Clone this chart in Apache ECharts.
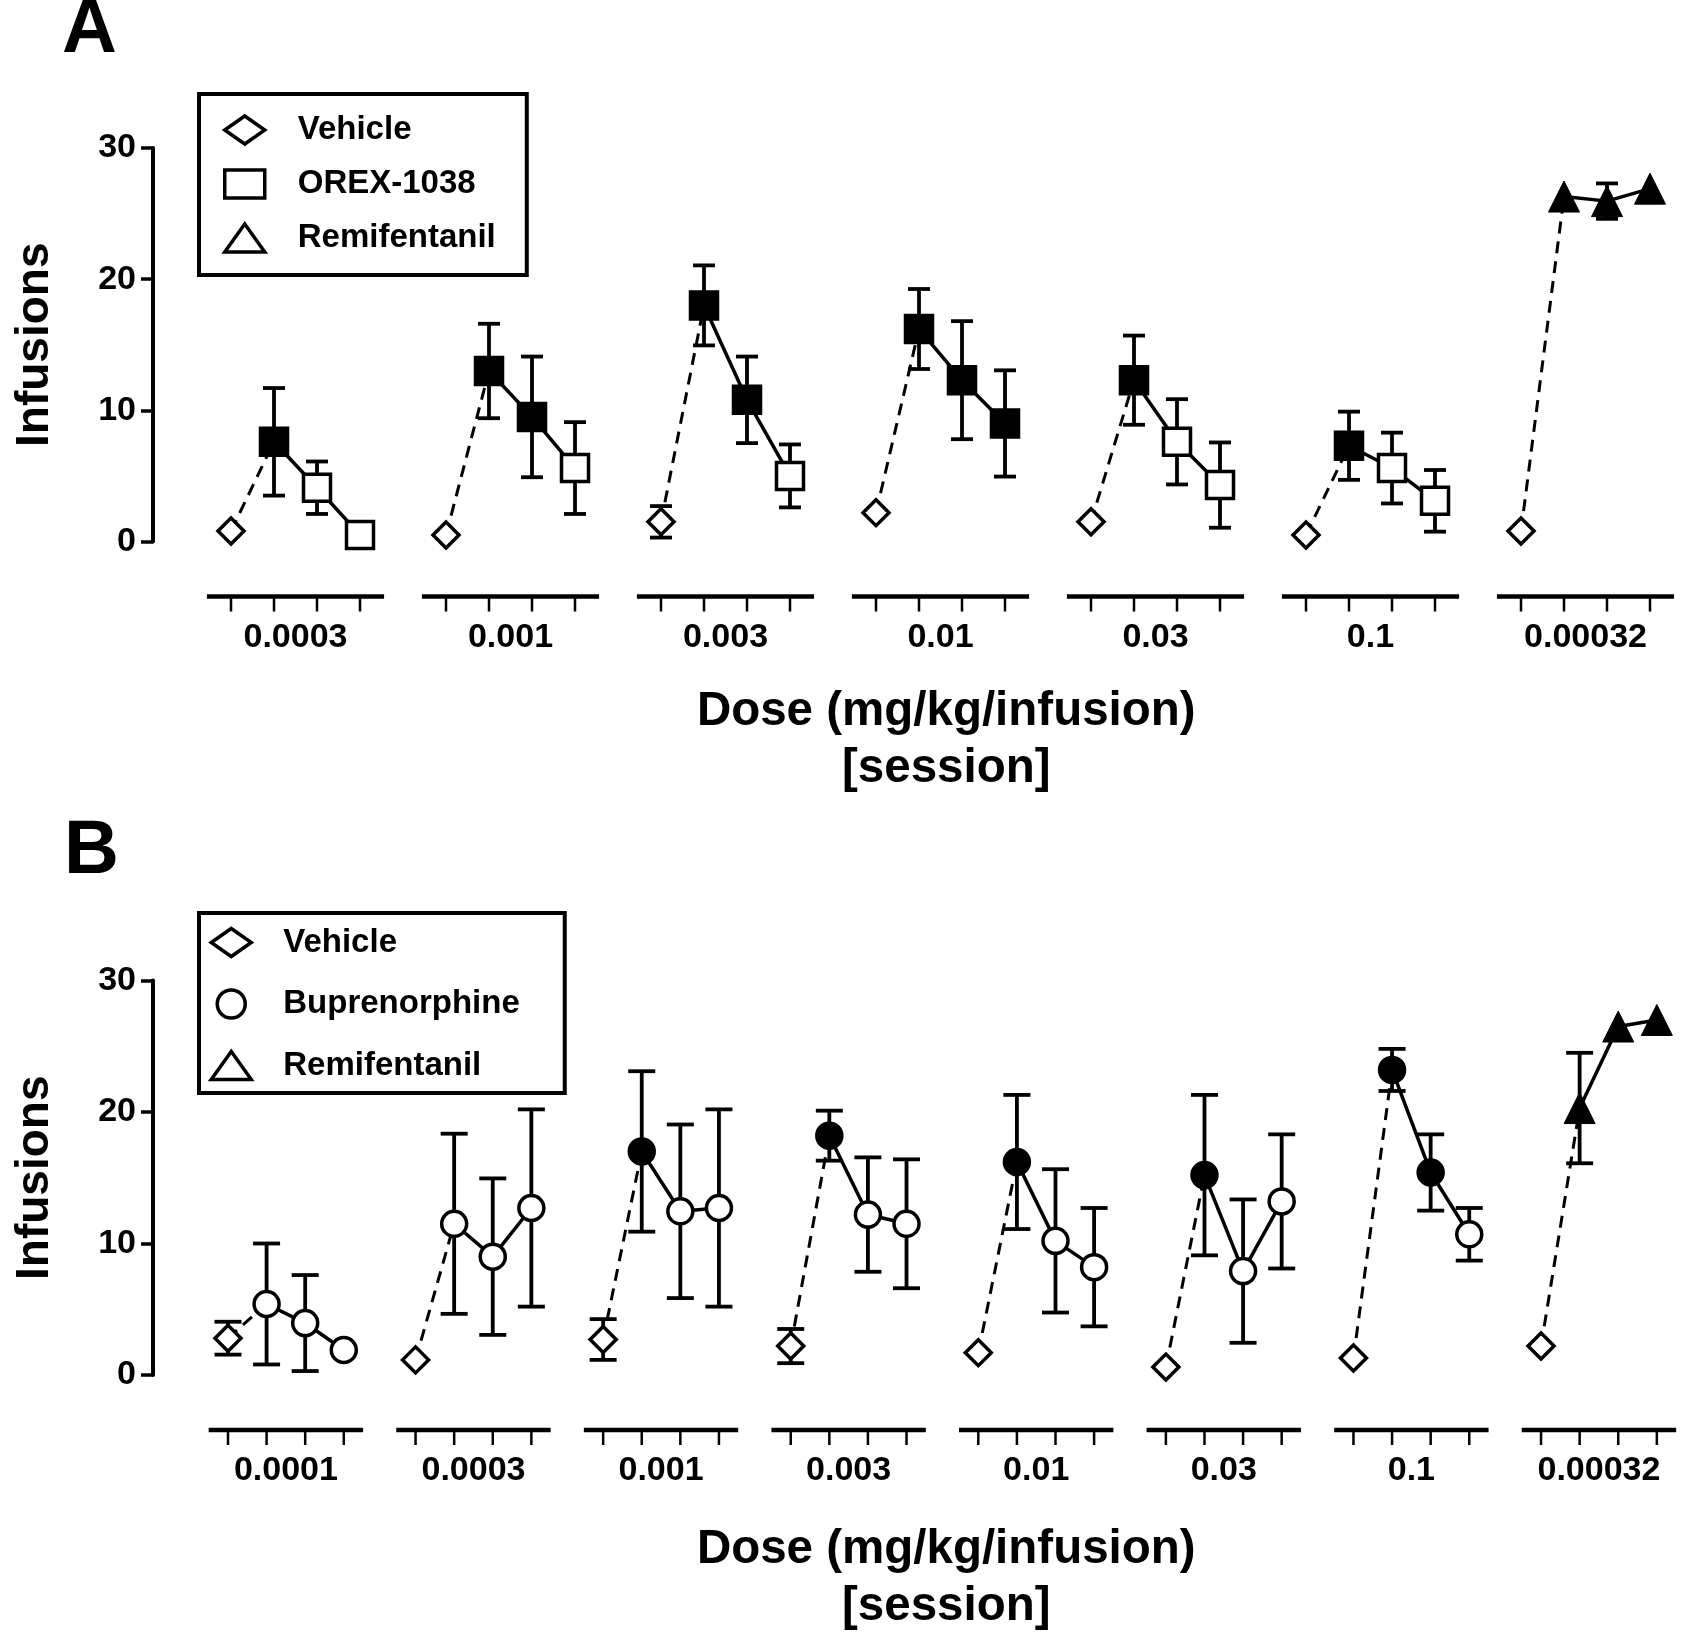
<!DOCTYPE html>
<html>
<head>
<meta charset="utf-8">
<script src="https://cdn.jsdelivr.net/npm/echarts@6/dist/echarts.min.js"></script>
<style>
html,body{margin:0;padding:0;background:#fff;}
#chart{width:1684px;height:1638px;}
</style>
</head>
<body>
<div id="chart"></div>
<script>
const FONT = "'Liberation Sans', Arial, Helvetica, sans-serif";

// ---------- Panel A data ----------
const doseLabelsA = ['0.0003', '0.001', '0.003', '0.01', '0.03', '0.1', '0.00032'];
const vehicleA    = [0.8, 0.5, 1.5, 2.2, 1.5, 0.5, 0.8];
const vehicleSemA = [0, 0, 1.2, 0, 0, 0, 0];
const orexA = [
  [7.6, 4.1, 0.5],
  [13.0, 9.5, 5.6],
  [18.0, 10.8, 5.0],
  [16.2, 12.3, 9.0],
  [12.3, 7.6, 4.3],
  [7.3, 5.6, 3.1]
];
const orexSemA = [
  [4.1, 2.0, 0],
  [3.6, 4.6, 3.5],
  [3.05, 3.3, 2.4],
  [3.05, 4.5, 4.05],
  [3.4, 3.25, 3.25],
  [2.6, 2.7, 2.35]
];
const orexSigA = [
  [1, 0, 0],
  [1, 1, 0],
  [1, 1, 0],
  [1, 1, 1],
  [1, 0, 0],
  [1, 0, 0]
];
const remiA    = [26.3, 25.95, 26.9];
const remiSemA = [0, 1.35, 0];

// ---------- Panel B data ----------
const doseLabelsB = ['0.0001', '0.0003', '0.001', '0.003', '0.01', '0.03', '0.1', '0.00032'];
const vehicleB    = [2.8, 1.15, 2.7, 2.2, 1.7, 0.6, 1.3, 2.2];
const vehicleSemB = [1.25, 0, 1.55, 1.3, 0, 0, 0, 0];
const bupB = [
  [5.4, 3.95, 1.9],
  [11.5, 9.0, 12.7],
  [17.0, 12.45, 12.7],
  [18.2, 12.2, 11.5],
  [16.2, 10.2, 8.2],
  [15.2, 7.9, 13.2],
  [23.2, 15.4, 10.7]
];
const bupSemB = [
  [4.6, 3.65, 0],
  [6.85, 5.95, 7.5],
  [6.1, 6.6, 7.5],
  [1.9, 4.35, 4.9],
  [5.1, 5.45, 4.5],
  [6.1, 5.45, 5.1],
  [1.6, 2.9, 2.0]
];
const bupSigB = [
  [0, 0, 0],
  [0, 0, 0],
  [1, 0, 0],
  [1, 0, 0],
  [1, 0, 0],
  [1, 0, 0],
  [1, 1, 0]
];
const remiB    = [20.3, 26.5, 27.0];
const remiSemB = [4.2, 0, 0];

const yTicks = [0, 10, 20, 30];

// ---------- layout constants ----------
const GROUP_STEP_A = 5;      // x units between group starts (1 unit = one session slot)
const GROUP_STEP_B = 4.86;
const AXIS_DROP = 55;        // px the segmented x axis sits below y = 0

// ---------- builders ----------
function buildPanel(veh, vehSem, drug, drugSem, drugSig, remi, remiSem, step) {
  const vehPts = [], drugPts = [], remiPts = [], dashed = [], solid = [], err = [], groups = [];
  const n = veh.length;
  for (let g = 0; g < n; g++) {
    const base = g * step;
    groups.push([base, 0]);
    vehPts.push([base, veh[g]]);
    if (vehSem[g] > 0) err.push([base, veh[g] - vehSem[g], veh[g] + vehSem[g]]);
    const isRemi = g >= drug.length;
    const vals = isRemi ? remi : drug[g];
    const sems = isRemi ? remiSem : drugSem[g];
    for (let k = 0; k < 3; k++) {
      const x = base + 1 + k;
      if (isRemi) {
        remiPts.push([x, vals[k]]);
      } else {
        drugPts.push({ value: [x, vals[k]], itemStyle: { color: drugSig[g][k] ? '#000' : '#fff' } });
      }
      if (sems[k] > 0) err.push([x, vals[k] - sems[k], vals[k] + sems[k]]);
    }
    dashed.push([base, veh[g]], [base + 1, vals[0]], [base + 1.5, '-']);
    solid.push([base + 1, vals[0]], [base + 2, vals[1]], [base + 3, vals[2]], [base + 3.5, '-']);
  }
  return { vehPts, drugPts, remiPts, dashed, solid, err, groups };
}

const PA = buildPanel(vehicleA, vehicleSemA, orexA, orexSemA, orexSigA, remiA, remiSemA, GROUP_STEP_A);
const PB = buildPanel(vehicleB, vehicleSemB, bupB, bupSemB, bupSigB, remiB, remiSemB, GROUP_STEP_B);

function errorSeries(idx, data, capW) {
  return {
    type: 'custom', xAxisIndex: idx, yAxisIndex: idx, z: 2, silent: true, clip: false,
    data: data,
    renderItem: function (params, api) {
      const x = api.value(0);
      const lo = api.coord([x, api.value(1)]);
      const hi = api.coord([x, api.value(2)]);
      const hw = capW / 2;
      const st = { stroke: '#000', lineWidth: 3.8 };
      return {
        type: 'group', children: [
          { type: 'line', shape: { x1: hi[0], y1: hi[1], x2: lo[0], y2: lo[1] }, style: st },
          { type: 'line', shape: { x1: hi[0] - hw, y1: hi[1], x2: hi[0] + hw, y2: hi[1] }, style: st },
          { type: 'line', shape: { x1: lo[0] - hw, y1: lo[1], x2: lo[0] + hw, y2: lo[1] }, style: st }
        ]
      };
    }
  };
}

function segAxisSeries(idx, groups, labels, pad) {
  return {
    type: 'custom', xAxisIndex: idx, yAxisIndex: idx, z: 1, silent: true, clip: false,
    data: groups,
    renderItem: function (params, api) {
      const base = api.value(0);
      const y0 = api.coord([base, 0])[1] + AXIS_DROP;
      const xs = api.coord([base - pad, 0])[0];
      const xe = api.coord([base + 3 + pad, 0])[0];
      const children = [
        { type: 'line', shape: { x1: xs, y1: y0, x2: xe, y2: y0 }, style: { stroke: '#000', lineWidth: 4.5 } }
      ];
      for (let k = 0; k < 4; k++) {
        const xt = api.coord([base + k, 0])[0];
        children.push({ type: 'line', shape: { x1: xt, y1: y0, x2: xt, y2: y0 + 15 }, style: { stroke: '#000', lineWidth: 2.5 } });
      }
      const xl = api.coord([base + 1.5, 0])[0];
      children.push({
        type: 'text', x: xl, y: y0 + 41,
        style: { text: labels[params.dataIndex], font: 'bold 34px ' + FONT, fill: '#000', align: 'center', verticalAlign: 'middle' }
      });
      return { type: 'group', children: children };
    }
  };
}

function lineSeries(idx, data, dashed) {
  return {
    type: 'line', xAxisIndex: idx, yAxisIndex: idx, z: 3, silent: true,
    data: data, symbol: 'none', connectNulls: false,
    lineStyle: dashed ? { color: '#000', width: 3, type: [12, 8] } : { color: '#000', width: 3.5 }
  };
}

function scatter(idx, name, data, symbol, size, fill) {
  return {
    type: 'scatter', name: name, xAxisIndex: idx, yAxisIndex: idx, z: 4, silent: true,
    data: data, symbol: symbol, symbolSize: size,
    itemStyle: { color: fill, borderColor: '#000', borderWidth: symbol === 'triangle' ? 1 : 3.5, opacity: 1 },
    emphasis: { disabled: true }
  };
}

function yAxis(idx) {
  return {
    type: 'value', gridIndex: idx, min: yTicks[0], max: yTicks[yTicks.length - 1], interval: 10,
    splitLine: { show: false },
    axisLine: { show: true, onZero: false, lineStyle: { color: '#000', width: 4 } },
    axisTick: { show: true, length: 12, lineStyle: { color: '#000', width: 3.5 } },
    axisLabel: { fontSize: 34, fontWeight: 'bold', fontFamily: FONT, color: '#000', margin: 17 },
    name: 'Infusions', nameLocation: 'middle', nameGap: 95,
    nameTextStyle: { fontSize: 46, fontWeight: 'bold', fontFamily: FONT, color: '#000' }
  };
}

function xAxis(idx, min, max, gap) {
  return {
    type: 'value', gridIndex: idx, min: min, max: max,
    axisLine: { show: false, onZero: false }, axisTick: { show: false }, axisLabel: { show: false }, splitLine: { show: false },
    name: 'Dose (mg/kg/infusion)\n[session]', nameLocation: 'middle', nameGap: gap,
    nameTextStyle: { fontSize: 47.5, fontWeight: 'bold', fontFamily: FONT, color: '#000', lineHeight: 57, padding: [0, 0, 0, 68] }
  };
}

function legend(top, names, icons, pad, gap, textPad) {
  return {
    left: 199, top: top, orient: 'vertical', selectedMode: false,
    padding: pad, itemGap: gap, itemWidth: 40, itemHeight: 28,
    borderColor: '#000', borderWidth: 4, backgroundColor: '#fff',
    textStyle: { fontSize: 33, fontWeight: 'bold', fontFamily: FONT, color: '#000', padding: [0, 0, 0, textPad] },
    data: names.map((n, i) => ({
      name: n, icon: icons[i],
      itemStyle: { color: '#fff', borderColor: '#000', borderWidth: 3.5 }
    }))
  };
}

const chart = echarts.init(document.getElementById('chart'), null, { renderer: 'canvas' });
chart.setOption({
  backgroundColor: '#fff',
  animation: false,
  title: [
    { text: 'A', left: 62, top: -7, padding: 0, textStyle: { fontSize: 76, fontWeight: 'bold', fontFamily: FONT, color: '#000' } },
    { text: 'B', left: 64, top: 814, padding: 0, textStyle: { fontSize: 76, fontWeight: 'bold', fontFamily: FONT, color: '#000' } }
  ],
  legend: [
    legend(94, ['Vehicle', 'OREX-1038', 'Remifentanil'], ['diamond', 'rect', 'triangle'], [19.5, 31, 20.5, 24], 21, 28),
    legend(913, ['Vehicle', 'Buprenorphine', 'Remifentanil'], ['diamond', 'circle', 'triangle'], [13, 45, 11, 10.5], 28.5, 27)
  ],
  grid: [
    { left: 153, top: 148, width: 1518.5, height: 393.5 },
    { left: 153, top: 980.5, width: 1518.5, height: 394.5 }
  ],
  xAxis: [xAxis(0, -1.814, 33.5, 142), xAxis(1, -1.943, 37.4, 146.5)],
  yAxis: [yAxis(0), yAxis(1)],
  series: [
    segAxisSeries(0, PA.groups, doseLabelsA, 0.56),
    errorSeries(0, PA.err, 22),
    lineSeries(0, PA.dashed, true),
    lineSeries(0, PA.solid, false),
    scatter(0, 'Vehicle', PA.vehPts, 'diamond', 26, '#fff'),
    scatter(0, 'OREX-1038', PA.drugPts, 'rect', 27, '#fff'),
    scatter(0, 'Remifentanil', PA.remiPts, 'triangle', 31, '#000'),

    segAxisSeries(1, PB.groups, doseLabelsB, 0.5),
    errorSeries(1, PB.err, 27),
    lineSeries(1, PB.dashed, true),
    lineSeries(1, PB.solid, false),
    scatter(1, 'Vehicle', PB.vehPts, 'diamond', 26, '#fff'),
    scatter(1, 'Buprenorphine', PB.drugPts, 'circle', 25, '#fff'),
    scatter(1, 'Remifentanil', PB.remiPts, 'triangle', 31, '#000')
  ]
});
</script>
</body>
</html>
